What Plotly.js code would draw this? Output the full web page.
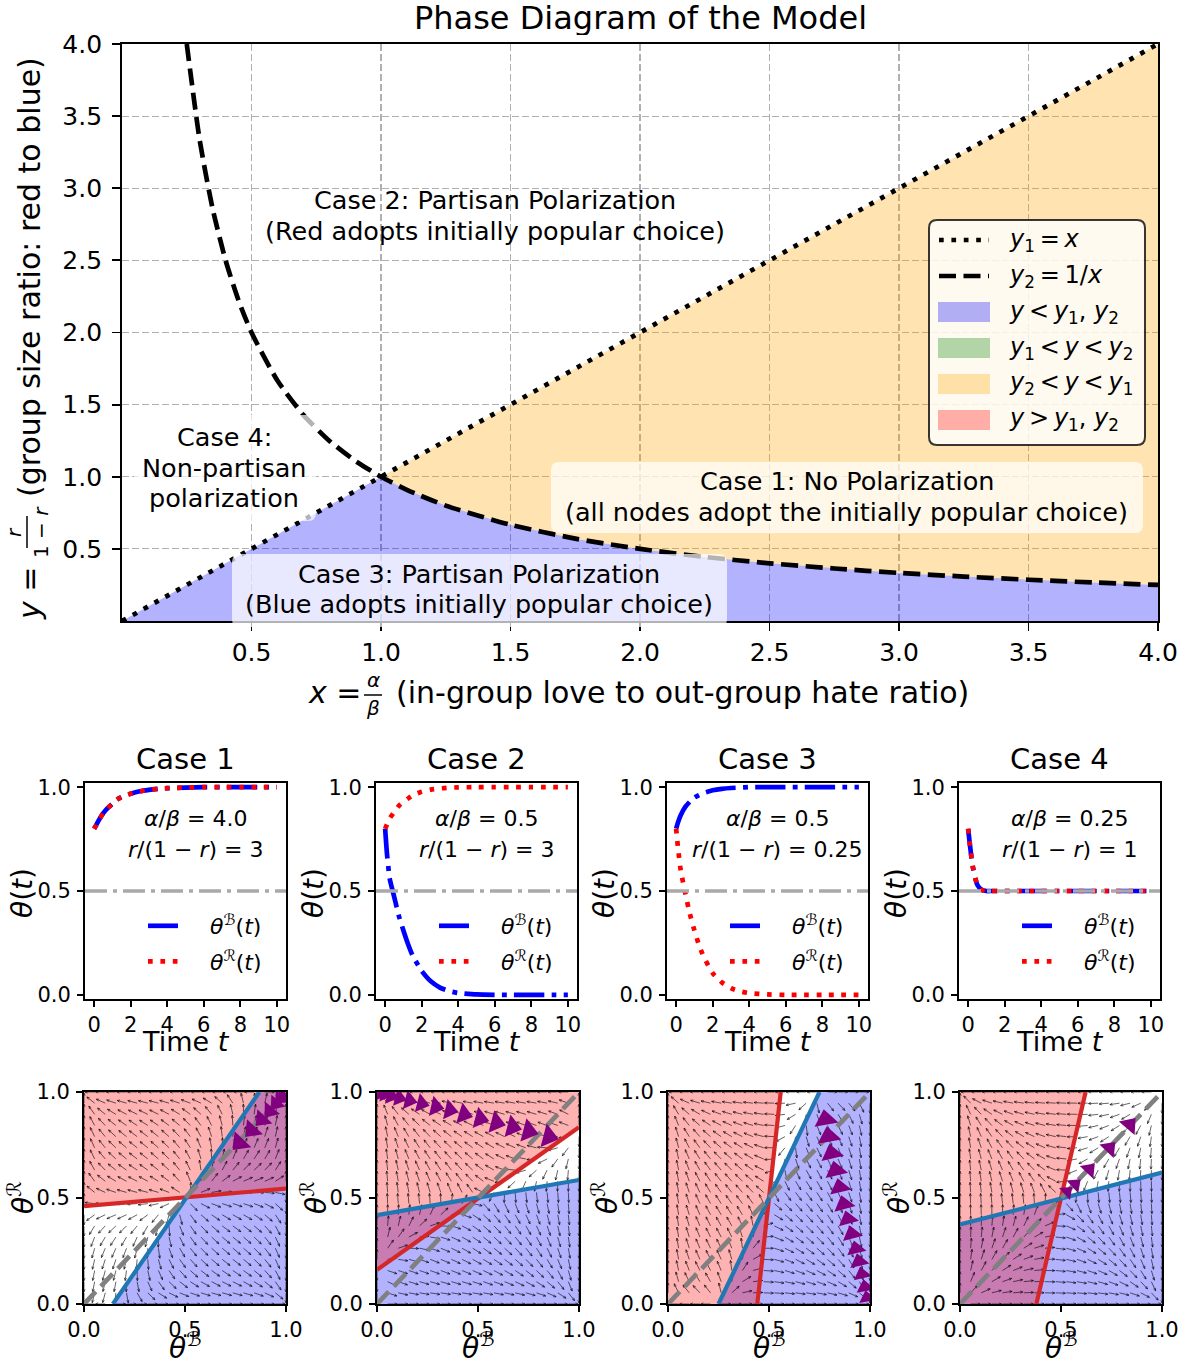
<!DOCTYPE html>
<html>
<head>
<meta charset="utf-8">
<script src="https://cdn.plot.ly/plotly-3.0.1.min.js"></script>
<style>html,body{margin:0;padding:0;background:#fff;}#chart{width:1188px;height:1364px;}</style>
</head>
<body>
<div id="chart"></div>
<script>
const W = 1188, H = 1364;
const FONT = 'DejaVu Sans, Liberation Sans, sans-serif';

// ================= Top panel data =================
const topTickVals = [0.5, 1.0, 1.5, 2.0, 2.5, 3.0, 3.5, 4.0];
const topTickText = ['0.5', '1.0', '1.5', '2.0', '2.5', '3.0', '3.5', '4.0'];
const y1LineX = [0, 4];
const y1LineY = [0, 4];
const y2CurveX = [0.25, 0.3, 0.35, 0.4, 0.45, 0.5, 0.6, 0.7, 0.8, 0.9, 1.0, 1.1, 1.25, 1.5, 1.75, 2.0, 2.25, 2.5, 2.75, 3.0, 3.25, 3.5, 3.75, 4.0];
const y2CurveY = [4.0, 3.333, 2.857, 2.5, 2.222, 2.0, 1.667, 1.429, 1.25, 1.111, 1.0, 0.909, 0.8, 0.667, 0.571, 0.5, 0.444, 0.4, 0.364, 0.333, 0.308, 0.286, 0.267, 0.25];

// ================= Time series data =================
const timeT      = [0, 0.1, 0.25, 0.5, 0.75, 1, 1.25, 1.5, 2, 2.5, 3, 3.5, 4, 5, 6, 7, 8, 9, 10];
const case1Blue  = [0.80, 0.815, 0.84, 0.875, 0.90, 0.92, 0.94, 0.952, 0.968, 0.98, 0.987, 0.992, 0.995, 0.998, 1, 1, 1, 1, 1];
const case1Red   = [0.80, 0.815, 0.84, 0.875, 0.90, 0.92, 0.94, 0.952, 0.968, 0.98, 0.987, 0.992, 0.995, 0.998, 1, 1, 1, 1, 1];
const case2Blue  = [0.80, 0.68, 0.56, 0.47, 0.38, 0.31, 0.245, 0.19, 0.115, 0.065, 0.035, 0.018, 0.009, 0.002, 0, 0, 0, 0, 0];
const case2Red   = [0.80, 0.82, 0.85, 0.88, 0.91, 0.93, 0.945, 0.96, 0.978, 0.988, 0.994, 0.997, 0.999, 1, 1, 1, 1, 1, 1];
const case3Blue  = [0.80, 0.83, 0.865, 0.905, 0.93, 0.95, 0.962, 0.972, 0.985, 0.992, 0.996, 0.998, 1, 1, 1, 1, 1, 1, 1];
const case3Red   = [0.80, 0.71, 0.60, 0.49, 0.39, 0.31, 0.24, 0.185, 0.105, 0.06, 0.032, 0.017, 0.008, 0.002, 0, 0, 0, 0, 0];
const case4Blue  = [0.80, 0.72, 0.62, 0.53, 0.505, 0.5, 0.5, 0.5, 0.5, 0.5, 0.5, 0.5, 0.5, 0.5, 0.5, 0.5, 0.5, 0.5, 0.5];
const case4Red   = [0.80, 0.72, 0.62, 0.53, 0.505, 0.5, 0.5, 0.5, 0.5, 0.5, 0.5, 0.5, 0.5, 0.5, 0.5, 0.5, 0.5, 0.5, 0.5];
const caseTitles = ['Case 1', 'Case 2', 'Case 3', 'Case 4'];
const alphaOverBeta = ['4.0', '0.5', '0.5', '0.25'];
const sizeRatio = ['3', '3', '0.25', '1'];
const timeTickVals = [0, 2, 4, 6, 8, 10];
const thetaTickVals = [0, 0.5, 1];
const thetaTickText = ['0.0', '0.5', '1.0'];
const refLevel = 0.5;

// ================= Phase portrait data =================
// nullcline endpoints [start, end] in (theta_B, theta_R)
const blueNullB = [[0.143, 0.868], [0, 1], [0.25, 0.75], [0, 1]];
const blueNullR = [[0, 1], [0.419, 0.585], [0, 1], [0.375, 0.62]];
const redNullB  = [[0, 1], [0, 1], [0.442, 0.558], [0.378, 0.622]];
const redNullR  = [[0.462, 0.544], [0.161, 0.834], [0, 1], [0, 1]];
const diagB = [0, 1];
const diagR = [0, 1];
// purple trajectory arrowheads, listed in the order of motion (theta_B, theta_R, size)
const traj1B = [0.77, 0.83, 0.88, 0.92, 0.95, 0.97, 0.985];
const traj1R = [0.76, 0.82, 0.87, 0.91, 0.945, 0.968, 0.984];
const traj1S = [20, 19, 18, 17, 16, 15, 14];
const traj2B = [0.85, 0.75, 0.67, 0.59, 0.51, 0.43, 0.36, 0.29, 0.22, 0.16, 0.11, 0.07, 0.04, 0.02];
const traj2R = [0.79, 0.815, 0.835, 0.855, 0.875, 0.895, 0.915, 0.93, 0.945, 0.96, 0.972, 0.982, 0.99, 0.995];
const traj2S = [21, 21, 20, 20, 19, 19, 18, 18, 17, 17, 16, 16, 15, 15];
const traj3B = [0.78, 0.795, 0.81, 0.83, 0.85, 0.87, 0.89, 0.91, 0.93, 0.945, 0.96, 0.975, 0.985];
const traj3R = [0.87, 0.79, 0.71, 0.63, 0.55, 0.47, 0.40, 0.33, 0.26, 0.20, 0.14, 0.08, 0.03];
const traj3S = [21, 21, 20, 20, 19, 19, 18, 18, 17, 17, 16, 16, 15];
const traj4B = [0.84, 0.74, 0.64, 0.57, 0.53];
const traj4R = [0.845, 0.735, 0.635, 0.565, 0.53];
const traj4S = [18, 17, 16, 15, 14];

// ================= Geometry (px) =================
const topBox = {l: 122, r: 1158, t: 44, b: 621};
const tsLeft = [85, 376, 667, 959], tsW = 201, tsTop = 783, tsBottom = 999;
const phLeft = [84, 377, 668, 960], phW = 202, phTop = 1092, phBottom = 1304;
const px = v => v / W, py = v => 1 - v / H;

const seriesBlue = [case1Blue, case2Blue, case3Blue, case4Blue];
const seriesRed = [case1Red, case2Red, case3Red, case4Red];
const trajB = [traj1B, traj2B, traj3B, traj4B];
const trajR = [traj1R, traj2R, traj3R, traj4R];
const trajS = [traj1S, traj2S, traj3S, traj4S];

const data = [];
const shapes = [];
const annotations = [];

// ---------- top panel traces ----------
const blueX = [0], blueY = [0];
const orangeX = [], orangeY = [];
for (let i = 0; i < y2CurveX.length; i++) {
  if (y2CurveX[i] >= 1) { blueX.push(y2CurveX[i]); blueY.push(Math.min(y2CurveY[i], y2CurveX[i])); }
}
blueX.push(4, 0); blueY.push(0, 0);
orangeX.push(1, 4, 4); orangeY.push(1, 4, y2CurveY[y2CurveY.length - 1]);
for (let i = y2CurveX.length - 1; i >= 0; i--) {
  if (y2CurveX[i] >= 1) { orangeX.push(y2CurveX[i]); orangeY.push(y2CurveY[i]); }
}
data.push({x: blueX, y: blueY, mode: 'lines', fill: 'toself', fillcolor: 'rgba(0,0,255,0.3)', line: {width: 0}, showlegend: false, hoverinfo: 'skip', xaxis: 'x', yaxis: 'y'});
data.push({x: orangeX, y: orangeY, mode: 'lines', fill: 'toself', fillcolor: 'rgba(255,165,0,0.3)', line: {width: 0}, showlegend: false, hoverinfo: 'skip', xaxis: 'x', yaxis: 'y'});
data.push({x: y1LineX, y: y1LineY, mode: 'lines', line: {color: 'black', width: 4.7, dash: '4.7px,7.7px'}, showlegend: false, xaxis: 'x', yaxis: 'y'});
data.push({x: y2CurveX, y: y2CurveY, mode: 'lines', line: {color: 'black', width: 4.7, dash: '17px,7.5px', shape: 'spline', smoothing: 0.6}, showlegend: false, xaxis: 'x', yaxis: 'y'});

// ---------- time series ----------
const PAD = '&nbsp;&nbsp;&nbsp;';
for (let k = 0; k < 4; k++) {
  const xa = 'x' + (2 + k), ya = 'y' + (2 + k), lg = 'legend' + (2 + k);
  data.push({x: timeT, y: seriesBlue[k], mode: 'lines', name: PAD + '<i>θ</i><sup>ℬ</sup>(<i>t</i>)', legend: lg, legendgroup: 'b' + k,
    line: {color: 'blue', width: 4.7, dash: '30px,7.5px,4.7px,7.5px', shape: 'spline', smoothing: 0.5}, xaxis: xa, yaxis: ya});
  data.push({x: timeT, y: seriesRed[k], mode: 'lines', name: PAD + '<i>θ</i><sup>ℛ</sup>(<i>t</i>)', legend: lg, legendgroup: 'r' + k,
    line: {color: 'red', width: 4.7, dash: '4.7px,7.7px', shape: 'spline', smoothing: 0.5}, xaxis: xa, yaxis: ya});
  data.push({x: [timeT[0] - 0.5, timeT[timeT.length - 1] + 0.5], y: [refLevel, refLevel], mode: 'lines', showlegend: false,
    line: {color: '#a9a9a9', width: 3.5, dash: '22px,6px,4px,6px'}, xaxis: xa, yaxis: ya});
}

// ---------- phase portraits ----------
function lineCoef(B, R) { const b = (R[1] - R[0]) / (B[1] - B[0]); return {a: R[0] - b * B[0], b: b}; }
function clipHalf(poly, c, keepBelow) {
  const f = p => keepBelow ? (c.a + c.b * p[0] - p[1]) : (p[1] - c.a - c.b * p[0]);
  const out = [];
  for (let i = 0; i < poly.length; i++) {
    const P = poly[i], Q = poly[(i + 1) % poly.length];
    const fp = f(P), fq = f(Q);
    if (fp >= 0) out.push(P);
    if ((fp >= 0) !== (fq >= 0)) { const t = fp / (fp - fq); out.push([P[0] + t * (Q[0] - P[0]), P[1] + t * (Q[1] - P[1])]); }
  }
  return out;
}
const unitSquare = [[0, 0], [1, 0], [1, 1], [0, 1]];
const quiverN = 20, arrowLen = 0.048, headLen = 0.014, headAng = 0.4;

for (let k = 0; k < 4; k++) {
  const xa = 'x' + (6 + k), ya = 'y' + (6 + k);
  const lb = lineCoef(blueNullB[k], blueNullR[k]);
  const lr = lineCoef(redNullB[k], redNullR[k]);
  const bluePoly = clipHalf(unitSquare, lb, true);
  const redPoly = clipHalf(unitSquare, lr, false);
  data.push({x: bluePoly.map(p => p[0]), y: bluePoly.map(p => p[1]), mode: 'lines', fill: 'toself', fillcolor: 'rgba(0,0,255,0.3)', line: {width: 0}, showlegend: false, xaxis: xa, yaxis: ya});
  data.push({x: redPoly.map(p => p[0]), y: redPoly.map(p => p[1]), mode: 'lines', fill: 'toself', fillcolor: 'rgba(255,0,0,0.3)', line: {width: 0}, showlegend: false, xaxis: xa, yaxis: ya});
  // direction field consistent with the nullclines
  const nb = Math.hypot(1, lb.b), nr = Math.hypot(1, lr.b);
  const qx = [], qy = [];
  for (let i = 0; i < quiverN; i++) for (let j = 0; j < quiverN; j++) {
    const b = i / (quiverN - 1), r = j / (quiverN - 1);
    const u = b * (1 - b) * (lb.a + lb.b * b - r) / nb;
    const v = r * (1 - r) * (r - lr.a - lr.b * b) / nr;
    const m = Math.hypot(u, v);
    if (m < 1e-12) continue;
    const ux = u / m, uy = v / m;
    const x1 = b + arrowLen * ux, y1 = r + arrowLen * uy;
    qx.push(b, x1, null); qy.push(r, y1, null);
    const ang = Math.atan2(uy, ux);
    for (const s of [1, -1]) {
      const a = ang + Math.PI - s * headAng;
      qx.push(x1, x1 + headLen * Math.cos(a), null); qy.push(y1, y1 + headLen * Math.sin(a), null);
    }
  }
  data.push({x: qx, y: qy, mode: 'lines', line: {color: 'black', width: 0.6}, showlegend: false, xaxis: xa, yaxis: ya});
  data.push({x: redNullB[k], y: redNullR[k], mode: 'lines', line: {color: '#d62728', width: 4.2}, showlegend: false, xaxis: xa, yaxis: ya});
  data.push({x: blueNullB[k], y: blueNullR[k], mode: 'lines', line: {color: '#1f77b4', width: 4.2}, showlegend: false, xaxis: xa, yaxis: ya});
  data.push({x: diagB, y: diagR, mode: 'lines', line: {color: 'gray', width: 4.7, dash: '17px,7.5px'}, showlegend: false, xaxis: xa, yaxis: ya});
  // purple trajectory arrowheads: drawn pointing back along the path, as in the reference
  const tb = trajB[k], tr = trajR[k];
  const angles = tb.map((b, i) => {
    const i0 = i < tb.length - 1 ? i : i - 1;
    const dx = (tb[i0 + 1] - tb[i0]) * phW, dy = (tr[i0 + 1] - tr[i0]) * (phBottom - phTop);
    return Math.atan2(dx, dy) * 180 / Math.PI + 180;
  });
  data.push({x: tb, y: tr, mode: 'markers', marker: {symbol: 'triangle-up', size: trajS[k], color: '#800080', opacity: 1, angle: angles, line: {width: 0}}, showlegend: false, xaxis: xa, yaxis: ya});
}

// ---------- layout ----------
function axis(extra) {
  return Object.assign({showline: true, linecolor: 'black', linewidth: 1.9, mirror: true, ticks: 'outside', ticklen: 6, tickwidth: 1.9, tickcolor: 'black',
    showgrid: false, zeroline: false, tickfont: {size: 21, color: 'black', family: FONT}, fixedrange: true}, extra);
}
const layout = {
  width: W, height: H, margin: {l: 0, r: 0, t: 0, b: 0}, paper_bgcolor: 'white', plot_bgcolor: 'white',
  font: {family: FONT, color: 'black'}, showlegend: true, hovermode: false,
  xaxis: axis({domain: [px(topBox.l), px(topBox.r)], range: [0, 4], tickvals: topTickVals, ticktext: topTickText, tickfont: {size: 25, color: 'black', family: FONT},
    ticklen: 8, showgrid: true, gridcolor: '#b0b0b0', gridwidth: 1.2, griddash: '7px,3px', anchor: 'y'}),
  yaxis: axis({domain: [py(topBox.b), py(topBox.t)], range: [0, 4], tickvals: topTickVals, ticktext: topTickText, tickfont: {size: 25, color: 'black', family: FONT},
    ticklen: 8, ticklabelstandoff: 5, showgrid: true, gridcolor: '#b0b0b0', gridwidth: 1.2, griddash: '7px,3px', anchor: 'x'}),
  shapes: shapes, annotations: annotations
};
for (let k = 0; k < 4; k++) {
  layout['xaxis' + (2 + k)] = axis({domain: [px(tsLeft[k]), px(tsLeft[k] + tsW)], range: [-0.5, 10.5], tickvals: timeTickVals, anchor: 'y' + (2 + k)});
  layout['yaxis' + (2 + k)] = axis({domain: [py(tsBottom), py(tsTop)], range: [-0.02, 1.02], tickvals: thetaTickVals, ticktext: thetaTickText, ticklabelstandoff: 2, anchor: 'x' + (2 + k)});
  layout['xaxis' + (6 + k)] = axis({domain: [px(phLeft[k]), px(phLeft[k] + phW)], range: [0, 1], tickvals: thetaTickVals, ticktext: thetaTickText, anchor: 'y' + (6 + k)});
  layout['yaxis' + (6 + k)] = axis({domain: [py(phBottom), py(phTop)], range: [0, 1], tickvals: thetaTickVals, ticktext: thetaTickText, ticklabelstandoff: 2, anchor: 'x' + (6 + k)});
  layout['legend' + (2 + k)] = {x: px(tsLeft[k] + 58), y: py(944), xanchor: 'left', yanchor: 'middle', bgcolor: 'rgba(0,0,0,0)', borderwidth: 0,
    font: {size: 22, family: FONT, color: 'black'}, itemwidth: 36, tracegroupgap: 4};
}

function ann(x, y, text, size, opt) {
  return Object.assign({xref: 'paper', yref: 'paper', x: px(x), y: py(y), text: text, showarrow: false, xanchor: 'center', yanchor: 'middle',
    font: {size: size, color: 'black', family: FONT}}, opt || {});
}
function rrect(x0, y0, x1, y1, r) {
  const X = v => px(v).toFixed(5), Y = v => py(v).toFixed(5);
  return `M${X(x0 + r)},${Y(y0)} L${X(x1 - r)},${Y(y0)} Q${X(x1)},${Y(y0)} ${X(x1)},${Y(y0 + r)} L${X(x1)},${Y(y1 - r)} Q${X(x1)},${Y(y1)} ${X(x1 - r)},${Y(y1)} L${X(x0 + r)},${Y(y1)} Q${X(x0)},${Y(y1)} ${X(x0)},${Y(y1 - r)} L${X(x0)},${Y(y0 + r)} Q${X(x0)},${Y(y0)} ${X(x0 + r)},${Y(y0)} Z`;
}

// title
annotations.push(ann(640, 18, 'Phase Diagram of the Model', 32, {height: 34}));
// top axis titles
annotations.push(ann(334, 692, '<i>x</i> =', 30));
annotations.push(ann(373, 680, '<i>α</i>', 20));
annotations.push(ann(373, 708, '<i>β</i>', 20));
shapes.push({type: 'line', xref: 'paper', yref: 'paper', x0: px(364), x1: px(382), y0: py(695), y1: py(695), line: {color: 'black', width: 1.5}});
annotations.push(ann(394, 692, '(in-group love to out-group hate ratio)', 30, {xanchor: 'left'}));
annotations.push(ann(29, 594, '<i>y</i> =', 30, {textangle: -90}));
annotations.push(ann(14, 532, '<i>r</i>', 20, {textangle: -90}));
annotations.push(ann(41, 532, '1 − <i>r</i>', 20, {textangle: -90}));
shapes.push({type: 'line', xref: 'paper', yref: 'paper', x0: px(27), x1: px(27), y0: py(516), y1: py(548), line: {color: 'black', width: 1.5}});
annotations.push(ann(29, 277, '(group size ratio: red to blue)', 30, {textangle: -90}));

// case boxes and labels
shapes.push({type: 'path', xref: 'paper', yref: 'paper', path: rrect(134, 415, 316, 521, 8), fillcolor: 'rgba(255,255,255,0.7)', line: {width: 0}, layer: 'above'});
shapes.push({type: 'path', xref: 'paper', yref: 'paper', path: rrect(551, 462, 1143, 533, 8), fillcolor: 'rgba(255,255,255,0.7)', line: {width: 0}, layer: 'above'});
shapes.push({type: 'path', xref: 'paper', yref: 'paper', path: rrect(232, 554, 727, 627, 8), fillcolor: 'rgba(255,255,255,0.7)', line: {width: 0}, layer: 'above'});
annotations.push(ann(495, 200, 'Case 2: Partisan Polarization', 25.5));
annotations.push(ann(495, 231, '(Red adopts initially popular choice)', 25.5));
annotations.push(ann(224, 437, 'Case 4:', 25.5));
annotations.push(ann(224, 468, 'Non-partisan', 25.5));
annotations.push(ann(224, 498, 'polarization', 25.5));
annotations.push(ann(847, 481, 'Case 1: No Polarization', 25.5));
annotations.push(ann(847, 512, '(all nodes adopt the initially popular choice)', 25.5));
annotations.push(ann(479, 574, 'Case 3: Partisan Polarization', 25.5));
annotations.push(ann(479, 604, '(Blue adopts initially popular choice)', 25.5));

// top legend (manual box)
shapes.push({type: 'path', xref: 'paper', yref: 'paper', path: rrect(929, 220, 1145, 445, 8), fillcolor: 'rgba(255,255,255,0.8)', line: {color: 'rgba(20,20,20,0.85)', width: 2}, layer: 'above'});
shapes.push({type: 'line', xref: 'paper', yref: 'paper', x0: px(939), x1: px(989), y0: py(240), y1: py(240), line: {color: 'black', width: 4.7, dash: '4.7px,7.7px'}, layer: 'above'});
shapes.push({type: 'line', xref: 'paper', yref: 'paper', x0: px(939), x1: px(989), y0: py(276), y1: py(276), line: {color: 'black', width: 4.7, dash: '17px,7.5px'}, layer: 'above'});
const swatchColors = ['rgba(0,0,255,0.3)', 'rgba(0,128,0,0.3)', 'rgba(255,165,0,0.3)', 'rgba(255,0,0,0.3)'];
const T = '\u2009';
const legendLabels = [
  '<i>y</i><sub>1</sub>' + T + '=' + T + '<i>x</i>',
  '<i>y</i><sub>2</sub>' + T + '=' + T + '1/<i>x</i>',
  '<i>y</i>' + T + '&lt;' + T + '<i>y</i><sub>1</sub>, <i>y</i><sub>2</sub>',
  '<i>y</i><sub>1</sub>' + T + '&lt;' + T + '<i>y</i>' + T + '&lt;' + T + '<i>y</i><sub>2</sub>',
  '<i>y</i><sub>2</sub>' + T + '&lt;' + T + '<i>y</i>' + T + '&lt;' + T + '<i>y</i><sub>1</sub>',
  '<i>y</i>' + T + '&gt;' + T + '<i>y</i><sub>1</sub>, <i>y</i><sub>2</sub>'];
for (let i = 0; i < 4; i++) {
  const yc = 312 + 36 * i;
  shapes.push({type: 'rect', xref: 'paper', yref: 'paper', x0: px(938), x1: px(990), y0: py(yc - 10), y1: py(yc + 10), fillcolor: swatchColors[i], line: {width: 0}, layer: 'above'});
}
for (let i = 0; i < 6; i++) annotations.push(ann(1007, 240 + 36 * i, legendLabels[i], 24, {xanchor: 'left'}));

// bottom labels
for (let k = 0; k < 4; k++) {
  const cx = tsLeft[k] + tsW / 2;
  annotations.push(ann(cx, 759, caseTitles[k], 29));
  annotations.push(ann(cx, 1041, 'Time <i>t</i>', 27));
  annotations.push(ann(tsLeft[k] - 63, 893, '<i>θ</i>(<i>t</i>)', 28, {textangle: -90}));
  annotations.push({xref: 'x' + (2 + k) + ' domain', yref: 'paper', x: 0.55, y: py(818), text: '<i>α</i>/<i>β</i> = ' + alphaOverBeta[k], showarrow: false, xanchor: 'center', yanchor: 'middle', font: {size: 22, color: 'black', family: FONT}});
  annotations.push({xref: 'x' + (2 + k) + ' domain', yref: 'paper', x: 0.55, y: py(849), text: '<i>r</i>/(1 − <i>r</i>) = ' + sizeRatio[k], showarrow: false, xanchor: 'center', yanchor: 'middle', font: {size: 22, color: 'black', family: FONT}});
  const pcx = phLeft[k] + phW / 2;
  annotations.push(ann(pcx, 1346, '<i>θ</i><sup>ℬ</sup>', 28));
  annotations.push(ann(phLeft[k] - 63, 1198, '<i>θ</i><sup>ℛ</sup>', 28, {textangle: -90}));
}

Plotly.newPlot('chart', data, layout, {staticPlot: true});
</script>
</body>
</html>
